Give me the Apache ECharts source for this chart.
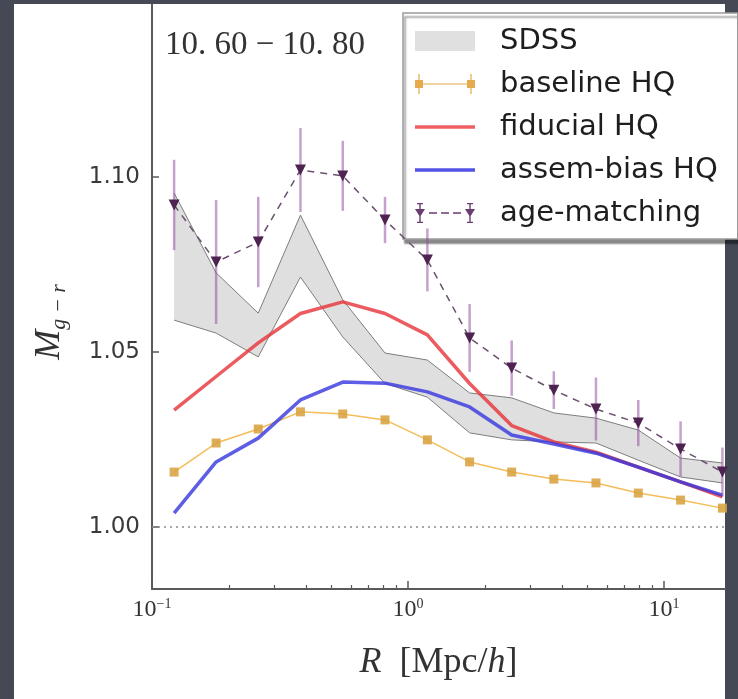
<!DOCTYPE html>
<html>
<head>
<meta charset="utf-8">
<script src="https://cdn.jsdelivr.net/npm/echarts@6/dist/echarts.min.js"></script>
<style>
html,body{margin:0;padding:0;width:738px;height:699px;overflow:hidden;background:#444955;}
#white{position:absolute;left:14px;top:4px;width:711px;height:695px;background:#ffffff;}
#chart{position:absolute;left:0;top:0;width:738px;height:699px;}
</style>
</head>
<body>
<div id="white"></div>
<div id="chart"></div>
<script>
// ---- data ----
const radiusR = [0.122, 0.178, 0.260, 0.380, 0.556, 0.813, 1.19, 1.74, 2.54, 3.71, 5.42, 7.93, 11.6, 16.9];
const sdssUpper = [1.0954, 1.0726, 1.0611, 1.0891, 1.0649, 1.0497, 1.0477, 1.0383, 1.0369, 1.0326, 1.0311, 1.0277, 1.0197, 1.0183];
const sdssLower = [1.0591, 1.0554, 1.0486, 1.0714, 1.0543, 1.0410, 1.0371, 1.0269, 1.0249, 1.0243, 1.0240, 1.0191, 1.0143, 1.0126];
const baselineHQ = [1.0157, 1.0240, 1.0280, 1.0329, 1.0323, 1.0306, 1.0249, 1.0186, 1.0157, 1.0137, 1.0126, 1.0097, 1.0077, 1.0054];
const fiducialHQ = [1.0334, 1.0430, 1.0526, 1.0610, 1.0643, 1.0610, 1.0549, 1.0410, 1.0290, 1.0243, 1.0214, 1.0171, 1.0129, 1.0086];
const assemBiasHQ = [1.0040, 1.0186, 1.0254, 1.0363, 1.0414, 1.0411, 1.0386, 1.0343, 1.0263, 1.0237, 1.0211, 1.0171, 1.0129, 1.0091];
const ageMatching = [1.0920, 1.0757, 1.0814, 1.1020, 1.1003, 1.0877, 1.0763, 1.0540, 1.0454, 1.0391, 1.0337, 1.0297, 1.0223, 1.0157];
const ageMatchingErr = [0.0129, 0.0177, 0.0129, 0.0120, 0.0100, 0.0066, 0.0090, 0.0097, 0.0079, 0.0054, 0.0090, 0.0066, 0.0079, 0.0070];
const yTickValues = [1.00, 1.05, 1.10];
const xMajorExp = [-1, 0, 1];
const xMinorR = [0.2, 0.3, 0.4, 0.5, 0.6, 0.7, 0.8, 0.9, 2, 3, 4, 5, 6, 7, 8, 9];
const binLabel = '10. 60 \u2212 10. 80';

// ---- build ----
const lx = radiusR.map(r => Math.log10(r));
const pairs = arr => arr.map((v, i) => [lx[i], v]);
const X_MIN = -1, X_MAX = 1.238;
const Y_MIN = 0.9823, Y_MAX = 1.1494;
const supMap = {'-1': '\u22121', '0': '0', '1': '1'};

// legend handle glyphs (60 x 20 boxes)
const ICON_LINE = 'path://M0,0 L60,0 L60,20 L0,20 Z M0,8.2 L60,8.2 L60,11.8 L0,11.8 Z';
const iconThickLine = 'path://M0,0 h60 v3.6 h-60 Z';
const iconBaseline = 'path://M0,6 h8 v8 h-8 Z M52,6 h8 v8 h-8 Z M8,9.4 h44 v1.2 h-44 Z M3.4,0 h1.2 v20 h-1.2 Z M55.4,0 h1.2 v20 h-1.2 Z';
const iconAge = 'path://M0,6 L10,6 L5,14 Z M50,6 L60,6 L55,14 Z M14,9.3 h8 v1.4 h-8 Z M26,9.3 h8 v1.4 h-8 Z M38,9.3 h8 v1.4 h-8 Z M4.3,0 h1.4 v20 h-1.4 Z M54.3,0 h1.4 v20 h-1.4 Z M2,0 h6 v1.2 h-6 Z M2,18.8 h6 v1.2 h-6 Z M52,0 h6 v1.2 h-6 Z M52,18.8 h6 v1.2 h-6 Z';

const chart = echarts.init(document.getElementById('chart'), null, {renderer: 'canvas'});
const option = {
  animation: false,
  backgroundColor: 'transparent',
  grid: {left: 152, top: 4, right: 13, bottom: 110, outerBoundsMode: 'none', containLabel: false},
  xAxis: [{
    type: 'value', min: X_MIN, max: X_MAX,
    axisLine: {show: true, onZero: false, lineStyle: {color: '#5a5a5a', width: 2}},
    axisTick: {show: true, inside: true, length: 8, customValues: xMajorExp, lineStyle: {color: '#5a5a5a', width: 1.5}},
    splitLine: {show: false},
    axisLabel: {
      customValues: xMajorExp, margin: 8,
      formatter: v => '{b|10}{s|' + supMap[String(Math.round(v))] + '}',
      rich: {
        b: {fontFamily: 'Liberation Serif', fontSize: 24, color: '#333', lineHeight: 26},
        s: {fontFamily: 'Liberation Serif', fontSize: 14, color: '#333', lineHeight: 14, verticalAlign: 'top'}
      }
    },
    name: '{i|R}{n|  [Mpc/}{i|h}{n|]}',
    nameLocation: 'middle', nameGap: 56,
    nameTextStyle: {
      rich: {
        i: {fontFamily: 'Liberation Serif', fontStyle: 'italic', fontSize: 36, color: '#333'},
        n: {fontFamily: 'Liberation Serif', fontSize: 36, color: '#333'}
      }
    }
  }, {
    type: 'value', min: X_MIN, max: X_MAX, position: 'bottom',
    axisLine: {show: false},
    axisTick: {show: true, inside: true, length: 4, customValues: xMinorR.map(r => Math.log10(r)), lineStyle: {color: '#5a5a5a', width: 1.2}},
    axisLabel: {show: false}, splitLine: {show: false}
  }],
  yAxis: {
    type: 'value', min: Y_MIN, max: Y_MAX,
    axisLine: {show: true, onZero: false, lineStyle: {color: '#5a5a5a', width: 2}},
    axisTick: {show: true, inside: true, length: 7, customValues: yTickValues, lineStyle: {color: '#5a5a5a', width: 1.5}},
    splitLine: {show: false},
    axisLabel: {
      customValues: yTickValues, margin: 12,
      formatter: v => v.toFixed(2),
      fontFamily: 'DejaVu Sans', fontSize: 23, color: '#3a3a3a'
    }
  },
  legend: {
    data: [
      {name: 'SDSS', icon: 'rect', itemStyle: {color: '#e0e0e0', borderWidth: 0}},
      {name: 'baseline HQ', icon: iconBaseline, itemStyle: {color: '#e6ab4c', borderWidth: 0, opacity: 1}},
      {name: 'fiducial HQ', icon: iconThickLine, itemStyle: {color: '#ee6063', borderWidth: 0, opacity: 1}},
      {name: 'assem-bias HQ', icon: iconThickLine, itemStyle: {color: '#5252e6', borderWidth: 0, opacity: 1}},
      {name: 'age-matching', icon: iconAge, itemStyle: {color: '#6a3d70', borderWidth: 0, opacity: 1}}
    ],
    orient: 'vertical', left: 403, top: 13,
    padding: [13, 20, 11, 12],
    itemWidth: 60, itemHeight: 20, itemGap: 13,
    backgroundColor: '#ffffff',
    borderColor: '#9a9a9a', borderWidth: 1.5, borderRadius: 0,
    shadowColor: 'rgba(0,0,0,0.45)', shadowBlur: 2, shadowOffsetX: 2, shadowOffsetY: 4,
    selectedMode: false,
    textStyle: {fontFamily: 'DejaVu Sans', fontSize: 29, color: '#1e1e1e', lineHeight: 30, padding: [0, 0, 0, 20]}
  },
  graphic: [
    {type: 'text', left: 165, top: 29, z: 100,
      style: {text: binLabel, font: '33px "Liberation Serif"', fill: '#333'}},
    {type: 'text', x: 50, y: 322, rotation: Math.PI / 2, z: 100,
      style: {
        text: '{m|M}{s|g \u2212 r}', align: 'center', verticalAlign: 'middle',
        rich: {
          m: {font: 'italic 36px "Liberation Serif"', fill: '#333', lineHeight: 40},
          s: {font: 'italic 22px "Liberation Serif"', fill: '#333', lineHeight: 16, verticalAlign: 'bottom'}
        }
      }}
  ],
  series: [
    {
      name: 'SDSS', type: 'custom', clip: true, z: 1,
      itemStyle: {color: '#e0e0e0'},
      data: [[lx[0], sdssUpper[0]]],
      renderItem: (params, api) => {
        const up = lx.map((x, i) => api.coord([x, sdssUpper[i]]));
        const lo = lx.map((x, i) => api.coord([x, sdssLower[i]]));
        return {type: 'group', children: [
          {type: 'polygon', shape: {points: up.concat(lo.slice().reverse())}, style: {fill: '#dfdfdf', stroke: null}},
          {type: 'polyline', shape: {points: up}, style: {stroke: '#7d7d7d', lineWidth: 1, fill: null}},
          {type: 'polyline', shape: {points: lo}, style: {stroke: '#7d7d7d', lineWidth: 1, fill: null}}
        ]};
      }
    },
    {
      name: 'baseline HQ', type: 'line', z: 3,
      data: pairs(baselineHQ),
      symbol: 'rect', symbolSize: 9, showSymbol: true,
      lineStyle: {color: '#f2b23a', width: 1.5, opacity: 0.85},
      itemStyle: {color: '#d9a446', opacity: 0.9}
    },
    {
      name: 'fiducial HQ', type: 'line', z: 4,
      data: pairs(fiducialHQ), symbol: 'none',
      lineStyle: {color: '#e63237', width: 3.5, opacity: 0.8},
      itemStyle: {color: '#e63237'}
    },
    {
      name: 'assem-bias HQ', type: 'line', z: 4,
      data: pairs(assemBiasHQ), symbol: 'none',
      lineStyle: {color: '#3535e0', width: 3.5, opacity: 0.8},
      itemStyle: {color: '#3535e0'}
    },
    {
      name: 'age-matching', type: 'line', z: 6,
      data: pairs(ageMatching),
      symbol: 'triangle', symbolRotate: 180, symbolSize: 11, showSymbol: true,
      lineStyle: {color: '#6b5070', width: 1.5, type: [7, 6]},
      itemStyle: {color: '#4e2352'}
    },
    {
      name: 'age-matching', type: 'custom', clip: true, z: 5,
      itemStyle: {color: '#4e2352'},
      data: ageMatching.map((v, i) => [lx[i], v, ageMatchingErr[i]]),
      renderItem: (params, api) => {
        const x = api.value(0), y = api.value(1), e = api.value(2);
        const p1 = api.coord([x, y - e]);
        const p2 = api.coord([x, y + e]);
        return {type: 'line', shape: {x1: p1[0], y1: p1[1], x2: p2[0], y2: p2[1]},
          style: {stroke: 'rgba(140,70,155,0.5)', lineWidth: 2.5}};
      }
    },
    {
      type: 'line', data: [], silent: true, z: 2,
      markLine: {
        silent: true, symbol: 'none', label: {show: false},
        lineStyle: {color: '#8a8a8a', width: 1.5, type: [2, 4]},
        data: [{yAxis: 1.0}]
      }
    }
  ]
};
chart.setOption(option);
</script>
</body>
</html>
